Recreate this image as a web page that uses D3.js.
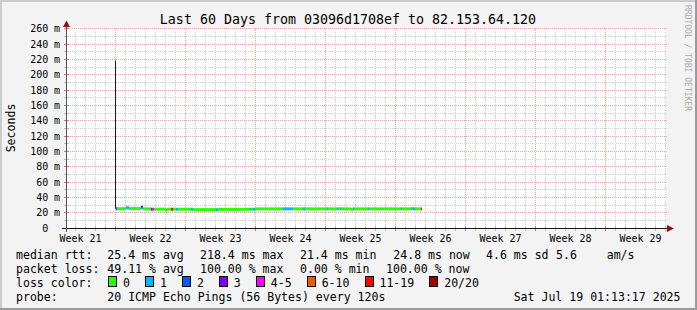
<!DOCTYPE html>
<html>
<head>
<meta charset="utf-8">
<style>
  body { margin: 0; background: #fff; }
  svg text { font-family: "DejaVu Sans Mono", monospace; fill: #000; }
</style>
</head>
<body>
<div id="chart"></div>
<script src="https://d3js.org/d3.v7.min.js"></script>
<script>
// ---- data ----
const title = 'Last 60 Days from 03096d1708ef to 82.153.64.120';
const yTicks = [0, 20, 40, 60, 80, 100, 120, 140, 160, 180, 200, 220, 240, 260];
const yMinor = [10, 30, 50, 70, 90, 110, 130, 150, 170, 190, 210, 230, 250];
const weekLabels = ['Week 21', 'Week 22', 'Week 23', 'Week 24', 'Week 25', 'Week 26', 'Week 27', 'Week 28', 'Week 29'];

// median rtt (ms) per sample, days since start of the window, loss = lost pings of 20
const sampleDay = [4.95, 5.0, 5.1, 6.0, 6.3, 7.5, 7.7, 8.5, 8.6, 8.8, 10.0, 10.1, 10.5, 10.7, 11.0, 11.2,
  12.5, 12.7, 15.0, 15.2, 18.4, 18.5, 18.7, 18.9, 21.7, 22.7, 23.7, 23.9, 26.1, 26.2, 27.1, 27.2,
  27.4, 27.5, 28.5, 28.7, 28.8, 30.2, 30.3, 33.5, 33.6, 34.5, 34.6, 34.7, 34.9, 35.5];
const medianRtt = [218.4, 25.2, 25.2, 26.5, 25.4, 27.0, 25.0, 24.6, 24.6, 24.6, 21.4, 24.6, 24.6, 24.6, 24.6, 24.6,
  24.6, 24.0, 24.0, 24.4, 24.6, 24.6, 24.6, 25.0, 25.0, 25.0, 25.0, 25.0, 25.0, 25.0, 25.0, 25.0,
  25.0, 25.0, 24.3, 25.0, 25.0, 25.0, 25.0, 25.0, 25.0, 25.0, 25.0, 25.0, 25.0, 24.8];
const lossCount = [15, 2, 0, 1, 0, 2, 0, 3, 4, 0, 0, 0, 15, 0, 1, 0,
  1, 0, 1, 0, 1, 0, 1, 0, 1, 0, 1, 0, 1, 0, 1, 0,
  1, 0, 0, 1, 0, 1, 0, 1, 0, 1, 0, 1, 0, 15];
const dataEndDay = 35.6;

// smoke (ping spread) marks
const smokeDay = [4.95, 10.0, 23.9];
const smokeLow = [25.2, 19.6, 23.2];
const smokeHigh = [218.4, 24.6, 24.6];

const lossLabels = ['0', '1', '2', '3', '4-5', '6-10', '11-19', '20/20'];
const lossMax = [0, 1, 2, 3, 5, 10, 19, 20];
const lossColors = ['#26ff00', '#00b8ff', '#0059ff', '#7e00ff', '#ff00ff', '#ff5500', '#ff0000', '#a00000'];

const rttStats = ['25.4 ms avg', '218.4 ms max', '21.4 ms min', '24.8 ms now', '4.6 ms sd', '5.6', 'am/s'];
const lossStats = ['49.11 % avg', '100.00 % max', '0.00 % min', '100.00 % now'];
const probeText = '20 ICMP Echo Pings (56 Bytes) every 120s';
const stamp = 'Sat Jul 19 01:13:17 2025';

// ---- layout ----
const W = 697, H = 310;
const plot = {left: 66, right: 666, top: 28, bottom: 228};
const rttX = [107.3, 200, 300, 393.3, 486, 556, 606.7];
const lossX = [107.3, 200, 300, 386];
const cw = 6.95;

const t0 = new Date(Date.UTC(2025, 4, 20, 1, 13, 17));
const t1 = new Date(Date.UTC(2025, 6, 19, 1, 13, 17));
const dayMs = 864e5;
const toDate = d => new Date(+t0 + d * dayMs);

const x = d3.scaleUtc().domain([t0, t1]).range([plot.left, plot.right]);
const y = d3.scaleLinear().domain([0, 261.3]).range([plot.bottom, plot.top]);
const crisp = v => Math.floor(v) + 0.5;

const svg = d3.select('#chart').append('svg')
  .attr('width', W).attr('height', H);

// background + 3d frame
svg.append('rect').attr('width', W).attr('height', H).attr('fill', '#f3f3f3');
svg.append('path').attr('d', `M1,${H} V1 H${W}`).attr('fill', 'none').attr('stroke', '#cbcbcb').attr('stroke-width', 2);
svg.append('path').attr('d', `M0,${H - 1} H${W - 1} V0`).attr('fill', 'none').attr('stroke', '#9b9b9b').attr('stroke-width', 2);

// canvas
svg.append('rect').attr('x', plot.left).attr('y', plot.top - 1)
  .attr('width', plot.right - plot.left + 1).attr('height', plot.bottom - plot.top + 1)
  .attr('fill', '#fff');

const grid = svg.append('g').attr('shape-rendering', 'crispEdges');
const days = d3.utcDay.range(t0, t1);
const sundays = d3.utcSunday.range(t0, t1);

days.filter(d => d.getUTCDay() !== 0).forEach(d => {
  grid.append('line').attr('x1', crisp(x(d))).attr('x2', crisp(x(d)))
    .attr('y1', plot.top).attr('y2', plot.bottom)
    .attr('stroke', '#d2d2d2').attr('stroke-dasharray', '1,1');
});
yMinor.forEach(v => {
  grid.append('line').attr('x1', plot.left).attr('x2', plot.right + 1)
    .attr('y1', crisp(y(v))).attr('y2', crisp(y(v)))
    .attr('stroke', '#d2d2d2').attr('stroke-dasharray', '1,1');
});
sundays.forEach(d => {
  grid.append('line').attr('x1', crisp(x(d))).attr('x2', crisp(x(d)))
    .attr('y1', plot.top).attr('y2', plot.bottom)
    .attr('stroke', '#eca3a3').attr('stroke-dasharray', '1,1');
});
yTicks.filter(v => v > 0).forEach(v => {
  grid.append('line').attr('x1', plot.left).attr('x2', plot.right + 1)
    .attr('y1', crisp(y(v))).attr('y2', crisp(y(v)))
    .attr('stroke', '#eca3a3').attr('stroke-dasharray', '1,1');
});

// axis ticks
days.forEach(d => {
  const major = d.getUTCDay() === 0;
  grid.append('line').attr('x1', crisp(x(d))).attr('x2', crisp(x(d)))
    .attr('y1', plot.bottom - 2).attr('y2', plot.bottom + 3)
    .attr('stroke', major ? '#e07070' : '#bbb');
});
yTicks.concat(yMinor).forEach(v => {
  grid.append('line').attr('x1', plot.left - 2).attr('x2', plot.left + 3)
    .attr('y1', crisp(y(v))).attr('y2', crisp(y(v)))
    .attr('stroke', yMinor.includes(v) ? '#bbb' : '#e07070');
});

// smoke
svg.append('g').selectAll('line').data(smokeDay).join('line')
  .attr('x1', d => crisp(x(toDate(d)))).attr('x2', d => crisp(x(toDate(d))))
  .attr('y1', (d, i) => y(smokeLow[i])).attr('y2', (d, i) => y(smokeHigh[i]))
  .attr('stroke', '#2a1212').attr('stroke-width', 1);

// median line, one piece per sample coloured by loss
const lossIndex = l => lossMax.findIndex(m => l <= m);
const seg = sampleDay.map((d, i) => ({
  x0: x(toDate(d)),
  x1: x(toDate(i < sampleDay.length - 1 ? sampleDay[i + 1] : dataEndDay)),
  v: medianRtt[i],
  c: lossColors[lossIndex(lossCount[i])],
  first: i === 0
}));
svg.append('g').selectAll('line').data(seg).join('line')
  .attr('x1', d => d.x0).attr('x2', d => d.x1)
  .attr('y1', d => y(d.v)).attr('y2', d => y(d.v))
  .attr('stroke', d => d.c)
  .attr('stroke-width', d => d.first ? 2 : 3);

// axes
const ax = svg.append('g').attr('shape-rendering', 'crispEdges');
ax.append('line').attr('x1', 62).attr('x2', plot.right + 1)
  .attr('y1', plot.bottom + 0.5).attr('y2', plot.bottom + 0.5).attr('stroke', '#1a1a1a');
ax.append('line').attr('x1', plot.left + 0.5).attr('x2', plot.left + 0.5)
  .attr('y1', plot.bottom + 4).attr('y2', plot.top - 3).attr('stroke', '#555');
svg.append('path').attr('d', `M${plot.left + 0.5},20.5 L${plot.left - 3},27 L${plot.left + 4},27 Z`).attr('fill', '#8b1414');
svg.append('path').attr('d', `M674,${plot.bottom + 0.5} L667,${plot.bottom - 3} L667,${plot.bottom + 4} Z`).attr('fill', '#8b1414');

// y tick labels
const yl = svg.append('g').attr('font-size', '10px');
yTicks.forEach(v => {
  const yy = crisp(y(v)) + 3.5;
  yl.append('text').attr('x', 48.2).attr('y', yy).attr('text-anchor', 'end').text(v);
  if (v > 0) yl.append('text').attr('x', 54).attr('y', yy).text('m');
});

// week labels centred in each week
const weekStarts = d3.utcSunday.range(d3.utcSunday.floor(t0), t1);
svg.append('g').attr('font-size', '10px').selectAll('text').data(weekLabels).join('text')
  .attr('x', (d, i) => x(new Date(+weekStarts[i] + 3.5 * dayMs)))
  .attr('y', 241.5)
  .attr('text-anchor', 'middle')
  .text(d => d);

// title, y label, watermark
svg.append('text').attr('x', 348).attr('y', 23.5).attr('text-anchor', 'middle')
  .attr('font-size', '13.3px').text(title);
svg.append('text').attr('transform', 'translate(15,128) rotate(-90)')
  .attr('text-anchor', 'middle').attr('font-size', '11.55px').text('Seconds');
svg.append('text').attr('transform', 'translate(685,5) rotate(90)')
  .attr('font-size', '8px').style('fill', '#aaa').text('RRDTOOL / TOBI OETIKER');

// legend
const lg = svg.append('g').attr('font-size', '11.55px');
lg.append('text').attr('x', 16).attr('y', 258.5).text('median rtt:');
rttStats.forEach((s, i) => lg.append('text').attr('x', rttX[i]).attr('y', 258.5).text(s));
lg.append('text').attr('x', 16).attr('y', 272.5).text('packet loss:');
lossStats.forEach((s, i) => lg.append('text').attr('x', lossX[i]).attr('y', 272.5).text(s));
lg.append('text').attr('x', 16).attr('y', 286.5).text('loss color:');
let bx = 108.3;
lossLabels.forEach((s, i) => {
  lg.append('rect').attr('x', Math.round(bx) + 0.5).attr('y', 276.5).attr('width', 8).attr('height', 10)
    .attr('fill', lossColors[i]).attr('stroke', '#000').attr('shape-rendering', 'crispEdges');
  lg.append('text').attr('x', bx + 14.7).attr('y', 286.5).text(s);
  bx += 14.7 + s.length * cw + 15.3;
});
lg.append('text').attr('x', 16).attr('y', 300.5).text('probe:');
lg.append('text').attr('x', 107.3).attr('y', 300.5).text(probeText);
lg.append('text').attr('x', 680.5).attr('y', 300.5).attr('text-anchor', 'end').text(stamp);
</script>
</body>
</html>
